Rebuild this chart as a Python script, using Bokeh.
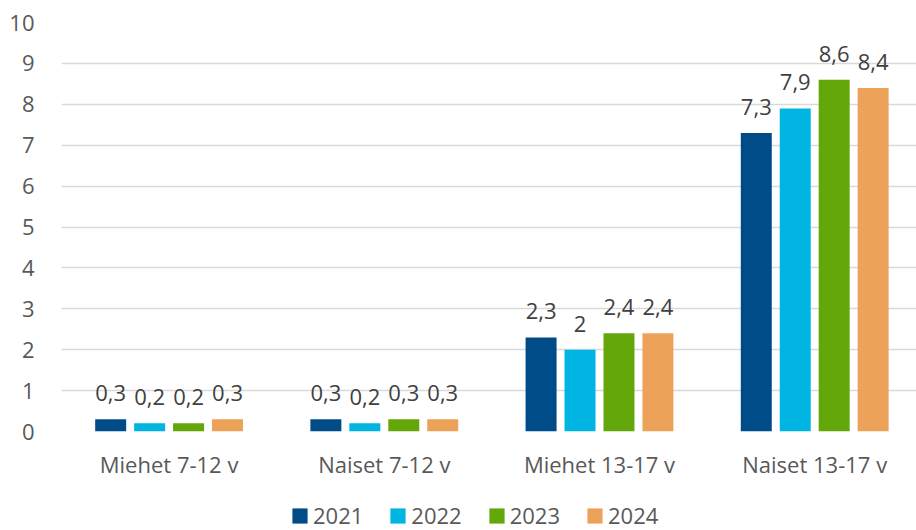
from bokeh.plotting import figure
from bokeh.layouts import column
from bokeh.models import (Range1d, FixedTicker, Legend, LegendItem, ColumnDataSource)
from bokeh.embed import file_html
from bokeh.resources import INLINE

categories = ["Miehet 7-12 v", "Naiset 7-12 v", "Miehet 13-17 v", "Naiset 13-17 v"]
years = ["2021", "2022", "2023", "2024"]
v2021 = [0.3, 0.3, 2.3, 7.3]
v2022 = [0.2, 0.2, 2.0, 7.9]
v2023 = [0.2, 0.3, 2.4, 8.6]
v2024 = [0.3, 0.3, 2.4, 8.4]
series = [v2021, v2022, v2023, v2024]
colors = ["#004C89", "#00B5E2", "#64A70B", "#EDA25A"]
y_ticks = list(range(0, 11))

FONT = "Open Sans"

p = figure(width=916, height=483, output_backend="svg", toolbar_location=None,
           x_range=Range1d(0, 3.973), y_range=Range1d(0, 10),
           min_border_left=61, min_border_right=0, min_border_top=22,
           min_border_bottom=52)
p.outline_line_color = None
p.background_fill_color = None
p.border_fill_color = "white"

# legend strip below the chart
lf = figure(width=916, height=47, output_backend="svg", toolbar_location=None,
            x_range=Range1d(0, 1), y_range=Range1d(0, 1),
            min_border_left=0, min_border_right=0, min_border_top=0,
            min_border_bottom=0)
lf.axis.visible = False
lf.grid.visible = False
lf.outline_line_color = None
lf.border_fill_color = "white"
lf.background_fill_color = None

step = 0.181
bw = 0.144
items = []
for j, (vals, col, yr) in enumerate(zip(series, colors, years)):
    xs = [i + 0.5 + (j - 1.5) * step for i in range(len(categories))]
    labels = [("{:g}".format(v)).replace(".", ",") for v in vals]
    src = ColumnDataSource(dict(x=xs, top=vals, lab=labels))
    p.vbar(x="x", top="top", width=bw, bottom=0, source=src,
           fill_color=col, line_color=None)
    p.text(x="x", y="top", text="lab", source=src, text_align="center",
           text_baseline="alphabetic", y_offset=-26, text_font_size="22px",
           text_color="#404040", text_font={"value": FONT})
    # same series in the legend strip, hidden: only its legend swatch is shown
    lr = lf.vbar(x="x", top="top", width=bw, bottom=0, source=src,
                 fill_color=col, line_color=None, visible=False)
    items.append(LegendItem(label=yr, renderers=[lr]))

# axes
p.xaxis.ticker = FixedTicker(ticks=[i + 0.5 for i in range(len(categories))])
p.xaxis.major_label_overrides = {i + 0.5: c for i, c in enumerate(categories)}
p.yaxis.ticker = FixedTicker(ticks=y_ticks)
for ax in (p.xaxis, p.yaxis):
    ax.axis_line_color = None
    ax.major_tick_line_color = None
    ax.minor_tick_line_color = None
    ax.major_tick_out = 0
    ax.major_tick_in = 0
    ax.major_label_text_font = FONT
    ax.major_label_text_font_size = "22px"
    ax.major_label_text_color = "#595959"
p.xaxis.major_label_standoff = 17
p.yaxis.major_label_standoff = 27

p.xgrid.grid_line_color = None
p.ygrid.ticker = FixedTicker(ticks=y_ticks)
p.ygrid.grid_line_color = "#D9D9D9"
p.ygrid.grid_line_width = 1.6

legend = Legend(items=items, orientation="horizontal", location=(229, 0),
                glyph_width=19, glyph_height=19, label_standoff=4, spacing=25,
                padding=0, margin=0, border_line_color=None,
                background_fill_alpha=0, label_text_font=FONT,
                label_text_font_size="22px", label_text_color="#595959")
lf.add_layout(legend, "center")

layout = column(p, lf, spacing=0)
open("out.html", "w").write(file_html(layout, INLINE))
